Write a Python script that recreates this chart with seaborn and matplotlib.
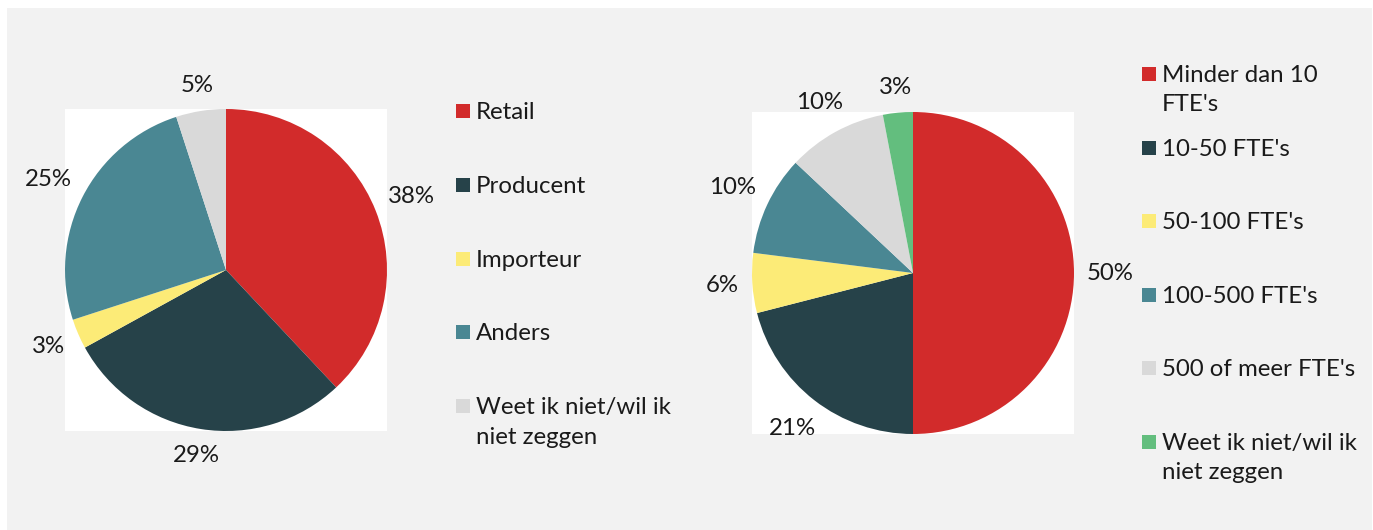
import numpy as np
import matplotlib
matplotlib.use('Agg')
import matplotlib.pyplot as plt
from matplotlib.patches import Rectangle
import seaborn as sns

sns.set_theme(style='white')
plt.rcParams['font.family'] = ['Lato', 'DejaVu Sans']

# linker cirkel: type bedrijf
labels_type = ['Retail', 'Producent', 'Importeur', 'Anders', 'Weet ik niet/wil ik\nniet zeggen']
values_type = [38, 29, 3, 25, 5]
colors_type = ['#D22B2B', '#264249', '#FCEB77', '#4A8793', '#D9D9D9']

# rechter cirkel: omvang bedrijf
labels_size = ["Minder dan 10\nFTE's", "10-50 FTE's", "50-100 FTE's", "100-500 FTE's",
               "500 of meer FTE's", 'Weet ik niet/wil ik\nniet zeggen']
values_size = [50, 21, 6, 10, 10, 3]
colors_size = ['#D22B2B', '#264249', '#FCEB77', '#4A8793', '#D9D9D9', '#63BE7E']

W, H = 1373, 530
fig = plt.figure(figsize=(W / 100, H / 100), dpi=100, facecolor='white')
fig.patches.append(Rectangle((7 / W, 0), (1372 - 7) / W, (H - 8) / H,
                             transform=fig.transFigure, facecolor='#F2F2F2',
                             edgecolor='none', zorder=-10))

txt_color = '#1A1A1A'
fs = 17.3
pies = []


def draw_pie(box, values, colors):
    ax = fig.add_axes(box)
    wedges, _, autotexts = ax.pie(values, colors=colors, startangle=90, counterclock=False,
                                  autopct='%.0f%%', pctdistance=1.2,
                                  wedgeprops=dict(linewidth=0),
                                  textprops=dict(fontsize=fs, color=txt_color))
    ax.set_xlim(-1, 1)
    ax.set_ylim(-1, 1)
    ax.set_aspect('equal', adjustable='box')
    ax.set_frame_on(True)
    ax.set_facecolor('white')
    for s in ax.spines.values():
        s.set_visible(False)
    ax.set_xticks([])
    ax.set_yticks([])
    pies.append((ax, wedges, autotexts))


def px_box(x0, y0, x1, y1):
    return [x0 / W, (H - y1) / H, (x1 - x0) / W, (y1 - y0) / H]


draw_pie(px_box(64, 109, 388, 431), values_type, colors_type)
draw_pie(px_box(752, 112, 1074, 434), values_size, colors_size)

# labels net buiten de rand zetten (zoals "buiten einde" in Excel)
fig.canvas.draw()
renderer = fig.canvas.get_renderer()
gap = 13
for ax, wedges, autotexts in pies:
    r_px = ax.get_window_extent().width / 2
    for w, t in zip(wedges, autotexts):
        th = np.deg2rad((w.theta1 + w.theta2) / 2)
        bb = t.get_window_extent(renderer)
        d = r_px + gap + abs(np.cos(th)) * bb.width / 2 + abs(np.sin(th)) * bb.height / 2
        t.set_position((d / r_px * np.cos(th), d / r_px * np.sin(th)))


def draw_legend(x_sq, y_first, step, labels, colors):
    for i, (lab, col) in enumerate(zip(labels, colors)):
        yc = y_first + i * step
        fig.patches.append(Rectangle((x_sq / W, (H - yc - 7) / H), 14 / W, 14 / H,
                                     transform=fig.transFigure, facecolor=col,
                                     edgecolor='none'))
        for k, line in enumerate(lab.split('\n')):
            fig.text((x_sq + 20) / W, (H - yc - 8 - k * 29.3) / H, line, fontsize=fs,
                     color=txt_color, ha='left', va='baseline')


draw_legend(456, 111, 73.8, labels_type, colors_type)
draw_legend(1142, 74, 73.6, labels_size, colors_size)

fig.savefig('out.png', dpi=100, facecolor='white')
